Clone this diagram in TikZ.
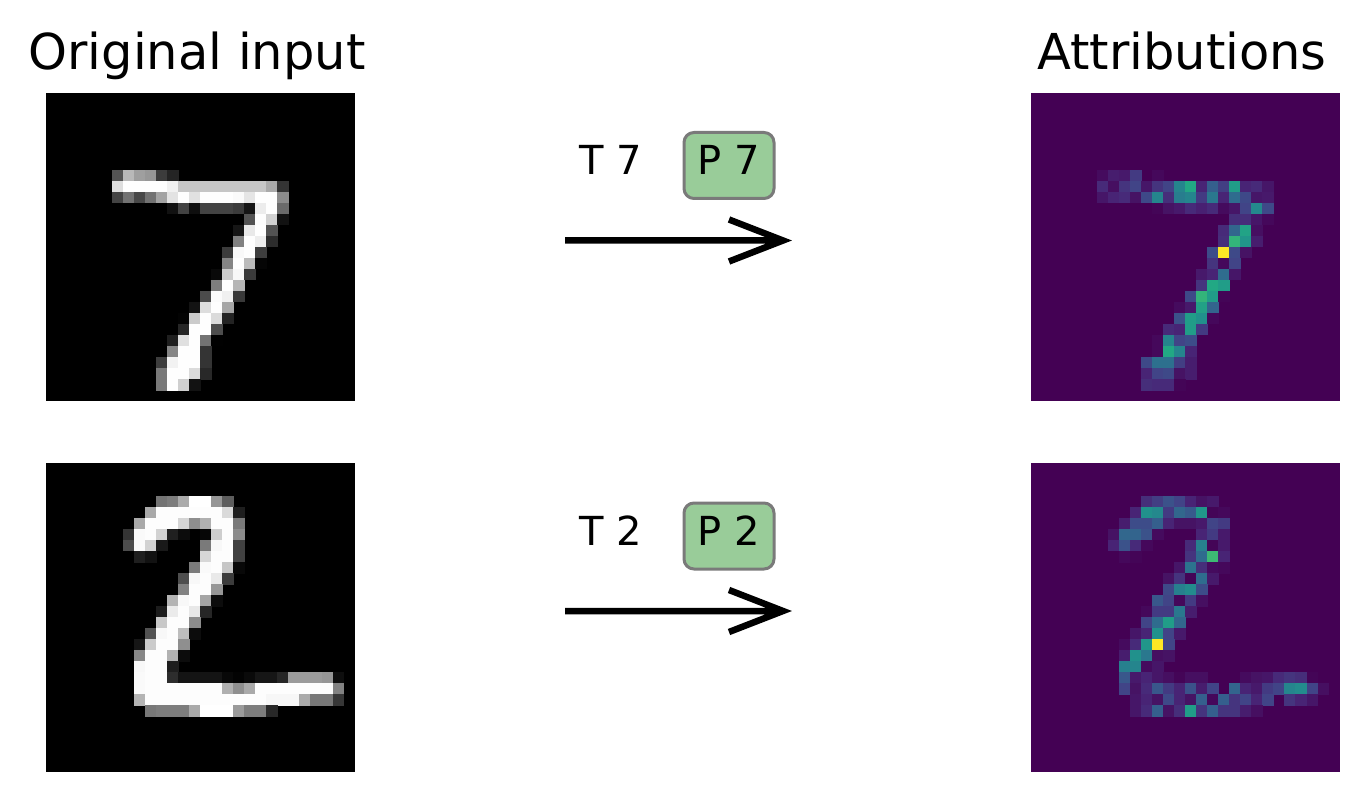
\documentclass[tikz,border=0pt]{standalone}
\usepackage{fontspec}
\setmainfont{DejaVu Sans}
\usetikzlibrary{calc}
\definecolor{vir0}{RGB}{68,1,84}
\definecolor{vir1}{RGB}{72,36,117}
\definecolor{vir2}{RGB}{65,68,135}
\definecolor{vir3}{RGB}{53,95,141}
\definecolor{vir4}{RGB}{42,120,142}
\definecolor{vir5}{RGB}{33,145,140}
\definecolor{vir6}{RGB}{34,168,132}
\definecolor{vir7}{RGB}{68,191,112}
\definecolor{vir8}{RGB}{122,209,81}
\definecolor{vir9}{RGB}{189,223,38}
\definecolor{vir10}{RGB}{253,231,37}
\definecolor{vir11}{RGB}{253,231,37}
\definecolor{boxgreen}{HTML}{99CC99}
\definecolor{boxedge}{HTML}{7A7A7A}
\begin{document}
\begin{tikzpicture}[x=1pt,y=-1pt,
  titletext/.style={font=\fontsize{49.5}{59}\selectfont, inner sep=0pt, outer sep=0pt, anchor=base},
  lbl/.style={font=\fontsize{40}{48}\selectfont, inner sep=0pt, outer sep=0pt, anchor=base},
  predbox/.style={lbl, draw=boxedge, line width=3pt, fill=boxgreen, rounded corners=10pt, minimum width=90pt, text height=42.5pt, text depth=23.5pt},
  arr/.style={line width=6.5pt, line join=miter, line cap=butt}]
\fill[white] (0,0) rectangle (1369,802);
\path[use as bounding box] (0,0) rectangle (1369,802);

% ---------- Original input: 7 ----------
\begin{scope}[shift={(46,92.7)},x=11.02pt,y=-11.02pt]
\fill[black] (0,0) rectangle (28,28);
\foreach \c/\r/\v in {
6/7/84,7/7/185,8/7/159,9/7/151,10/7/60,11/7/36,
6/8/222,7/8/254,8/8/254,9/8/254,10/8/254,11/8/241,12/8/198,13/8/198,14/8/198,15/8/198,16/8/198,17/8/198,18/8/198,19/8/198,20/8/170,21/8/52,
6/9/67,7/9/114,8/9/72,9/9/114,10/9/163,11/9/227,12/9/254,13/9/225,14/9/254,15/9/254,16/9/254,17/9/250,18/9/229,19/9/254,20/9/254,21/9/140,
11/10/17,12/10/66,13/10/14,14/10/67,15/10/67,16/10/67,17/10/59,18/10/21,19/10/236,20/10/254,21/10/106,
18/11/83,19/11/253,20/11/209,21/11/18,
17/12/22,18/12/233,19/12/255,20/12/83,
17/13/129,18/13/254,19/13/238,20/13/44,
16/14/59,17/14/249,18/14/254,19/14/62,
16/15/133,17/15/254,18/15/187,19/15/5,
15/16/9,16/16/205,17/16/248,18/16/58,
15/17/126,16/17/254,17/17/182,
14/18/75,15/18/251,16/18/240,17/18/57,
13/19/19,14/19/221,15/19/254,16/19/166,
12/20/3,13/20/203,14/20/254,15/20/219,16/20/35,
12/21/38,13/21/254,14/21/254,15/21/77,
11/22/31,12/22/224,13/22/254,14/22/115,15/22/1,
11/23/133,12/23/254,13/23/254,14/23/52,
10/24/61,11/24/242,12/24/254,13/24/254,14/24/52,
10/25/121,11/25/254,12/25/254,13/25/219,14/25/40,
10/26/121,11/26/254,12/26/207,13/26/18}
{\definecolor{pxg}{RGB}{\v,\v,\v}\fill[pxg] (\c,\r) rectangle ++(1.03,1.03);}
\end{scope}

% ---------- Original input: 2 ----------
\begin{scope}[shift={(46,463)},x=11.02pt,y=-11.02pt]
\fill[black] (0,0) rectangle (28,28);
\foreach \c/\r/\v in {
10/3/116,11/3/125,12/3/171,13/3/255,14/3/255,15/3/150,16/3/93,
9/4/169,10/4/253,11/4/253,12/4/253,13/4/253,14/4/253,15/4/253,16/4/218,17/4/30,
8/5/169,9/5/253,10/5/253,11/5/253,12/5/213,13/5/142,14/5/176,15/5/253,16/5/253,17/5/122,
7/6/52,8/6/250,9/6/253,10/6/210,11/6/32,12/6/12,14/6/6,15/6/206,16/6/253,17/6/140,
7/7/77,8/7/251,9/7/210,10/7/25,14/7/122,15/7/248,16/7/253,17/7/65,
8/8/31,9/8/18,14/8/215,15/8/253,16/8/253,17/8/65,
13/9/123,14/9/250,15/9/253,16/9/198,17/9/8,
12/10/78,13/10/248,14/10/253,15/10/233,16/10/60,
12/11/129,13/11/253,14/11/253,15/11/150,
11/12/180,12/12/248,13/12/253,14/12/165,15/12/12,
10/13/28,11/13/235,12/13/253,13/13/232,14/13/38,
10/14/200,11/14/253,12/14/253,13/14/140,
9/15/82,10/15/248,11/15/253,12/15/190,13/15/12,
8/16/22,9/16/203,10/16/253,11/16/253,12/16/143,
8/17/135,9/17/253,10/17/253,11/17/178,12/17/12,
8/18/248,9/18/253,10/18/253,11/18/30,
8/19/250,9/19/253,10/19/253,11/19/45,12/19/20,13/19/20,14/19/20,15/19/20,16/19/8,17/19/3,18/19/10,19/19/22,20/19/22,21/19/38,22/19/155,23/19/155,24/19/155,25/19/150,26/19/14,
8/20/250,9/20/253,10/20/253,11/20/253,12/20/253,13/20/253,14/20/253,15/20/253,16/20/176,17/20/143,18/20/170,19/20/253,20/20/253,21/20/253,22/20/253,23/20/253,24/20/253,25/20/253,26/20/130,
8/21/180,9/21/253,10/21/253,11/21/253,12/21/253,13/21/253,14/21/253,15/21/253,16/21/253,17/21/253,18/21/253,19/21/253,20/21/247,21/21/247,22/21/247,23/21/170,24/21/120,25/21/120,26/21/55,
9/22/120,10/22/125,11/22/125,12/22/125,13/22/170,14/22/255,15/22/255,16/22/255,17/22/155,18/22/125,19/22/125,20/22/40}
{\definecolor{pxg}{RGB}{\v,\v,\v}\fill[pxg] (\c,\r) rectangle ++(1.03,1.03);}
\end{scope}

% ---------- Attributions: 7 ----------
\begin{scope}[shift={(1031,92.7)},x=11.02pt,y=-11.02pt]
\fill[vir0] (0,0) rectangle (28,28);
\foreach \c/\r/\v in {
6/7/3,7/7/8,8/7/7,9/7/17,11/7/2,
6/8/12,7/8/4,8/8/15,9/8/20,10/8/6,11/8/15,12/8/20,13/8/45,14/8/60,15/8/10,16/8/30,17/8/18,18/8/55,19/8/10,20/8/12,21/8/6,
6/9/6,7/9/10,8/9/12,9/9/5,10/9/22,11/9/45,12/9/13,13/9/42,14/9/45,15/9/17,16/9/40,17/9/10,18/9/35,19/9/22,20/9/6,21/9/7,
11/10/1,12/10/5,13/10/7,14/10/12,15/10/9,16/10/12,17/10/3,18/10/6,19/10/20,20/10/47,21/10/22,
18/11/13,19/11/13,20/11/6,21/11/2,
17/12/12,18/12/33,19/12/58,20/12/4,
17/13/13,18/13/65,19/13/52,20/13/8,
16/14/23,17/14/100,18/14/22,19/14/5,
16/15/15,17/15/2,18/15/20,
15/16/7,16/16/10,17/16/35,18/16/6,
15/17/15,16/17/60,17/17/55,
14/18/22,15/18/65,16/18/55,17/18/1,
13/19/3,14/19/7,15/19/57,16/19/32,
13/20/25,14/20/55,15/20/50,16/20/2,
12/21/12,13/21/10,14/21/55,15/21/17,
11/22/2,12/22/45,13/22/20,14/22/23,
11/23/2,12/23/60,13/23/45,14/23/10,
10/24/22,11/24/37,12/24/37,13/24/18,14/24/8,
10/25/10,11/25/20,12/25/22,13/25/5,14/25/8,
10/26/13,11/26/12,12/26/12,13/26/1}
{\pgfmathtruncatemacro\k{floor(\v/10)}%
 \pgfmathtruncatemacro\kk{\k+1}%
 \pgfmathtruncatemacro\p{100-10*(\v-10*\k)}%
 \colorlet{pxc}{vir\k!\p!vir\kk}%
 \fill[pxc] (\c,\r) rectangle ++(1.03,1.03);}
\end{scope}

% ---------- Attributions: 2 ----------
\begin{scope}[shift={(1031,463)},x=11.02pt,y=-11.02pt]
\fill[vir0] (0,0) rectangle (28,28);
\foreach \c/\r/\v in {
10/3/13,11/3/18,12/3/25,13/3/20,14/3/10,15/3/5,16/3/7,
9/4/10,10/4/50,11/4/47,12/4/17,13/4/33,14/4/28,15/4/52,16/4/1,17/4/2,
8/5/8,9/5/23,10/5/23,11/5/30,12/5/10,13/5/5,14/5/5,15/5/7,16/5/20,17/5/17,
7/6/5,8/6/33,9/6/32,10/6/25,11/6/3,15/6/10,16/6/17,17/6/7,
7/7/10,8/7/25,9/7/12,10/7/2,14/7/12,15/7/43,16/7/1,17/7/7,
8/8/2,9/8/1,14/8/15,15/8/35,16/8/68,17/8/10,
13/9/6,14/9/38,15/9/13,16/9/3,17/9/2,
12/10/5,13/10/15,14/10/1,15/10/35,16/10/7,
12/11/22,13/11/43,14/11/48,15/11/23,
11/12/27,12/12/20,13/12/2,14/12/17,15/12/4,
10/13/2,11/13/17,12/13/17,13/13/40,14/13/8,
10/14/20,11/14/35,12/14/55,13/14/33,
9/15/6,10/15/10,11/15/50,12/15/20,13/15/7,
8/16/3,9/16/12,10/16/52,11/16/100,12/16/20,
8/17/8,9/17/50,10/17/40,11/17/4,12/17/5,
8/18/43,9/18/45,10/18/3,11/18/6,
8/19/27,9/19/7,10/19/10,11/19/6,12/19/4,13/19/1,14/19/4,15/19/4,19/19/3,20/19/5,21/19/6,22/19/12,23/19/15,24/19/13,25/19/1,
8/20/20,9/20/5,10/20/12,11/20/27,12/20/17,13/20/10,14/20/25,15/20/8,16/20/20,18/20/32,19/20/10,20/20/7,21/20/17,22/20/20,23/20/45,24/20/48,25/20/20,26/20/4,
9/21/6,10/21/10,11/21/5,12/21/22,13/21/10,14/21/5,15/21/30,16/21/2,17/21/30,18/21/15,19/21/20,20/21/10,21/21/20,23/21/15,24/21/10,25/21/6,
9/22/6,10/22/12,11/22/30,12/22/5,13/22/13,14/22/55,15/22/15,16/22/30,17/22/15,18/22/15,19/22/8,20/22/4}
{\pgfmathtruncatemacro\k{floor(\v/10)}%
 \pgfmathtruncatemacro\kk{\k+1}%
 \pgfmathtruncatemacro\p{100-10*(\v-10*\k)}%
 \colorlet{pxc}{vir\k!\p!vir\kk}%
 \fill[pxc] (\c,\r) rectangle ++(1.03,1.03);}
\end{scope}

% ---------- titles ----------
\node[titletext] (titleorig) at (197,70) {Original input};
\node[titletext] (titleattr) at (1182,70) {Attributions};

% ---------- labels ----------
\node[lbl] (true1) at (611,175) {T 7};
\node[predbox] (pred1) at (729,175) {P 7};
\node[lbl] (true2) at (611,545.5) {T 2};
\node[predbox] (pred2) at (729,545.5) {P 2};

% ---------- arrows ----------
\coordinate (s1) at (565,240.5);
\coordinate (e1) at (783,240.5);
\coordinate (s2) at (565,611);
\coordinate (e2) at (783,611);
\draw[arr] (s1) -- (e1) ($(e1)+(-54,-21)$) -- (e1) -- ($(e1)+(-54,21)$);
\draw[arr] (s2) -- (e2) ($(e2)+(-54,-21)$) -- (e2) -- ($(e2)+(-54,21)$);
\end{tikzpicture}
\end{document}
